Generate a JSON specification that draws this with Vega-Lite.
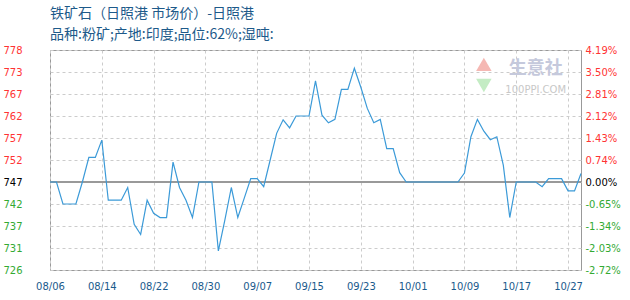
{
  "$schema": "https://vega.github.io/schema/vega-lite/v6.json",
  "width": 531,
  "height": 220,
  "autosize": {"type": "none"},
  "padding": {"left": 50, "top": 50, "right": 49, "bottom": 30},
  "background": "white",
  "config": {
    "view": {"stroke": "#999999", "strokeWidth": 1},
    "font": "DejaVu Sans",
    "axis": {"labelOverlap": false}
  },
  "title": {
    "text": "铁矿石（日照港 市场价）-日照港",
    "subtitle": "品种:粉矿;产地:印度;品位:62%;湿吨:",
    "anchor": "start",
    "frame": "group",
    "font": "Noto Sans CJK SC",
    "subtitleFont": "Noto Sans CJK SC",
    "fontSize": 14,
    "subtitleFontSize": 14,
    "fontWeight": "normal",
    "color": "#1d5a8a",
    "subtitleColor": "#1d5a8a",
    "subtitlePadding": 7,
    "offset": 3
  },
  "data": {
    "values": [
      {"date": "08/06", "price": 746.8}, {"date": "08/07", "price": 746.8}, {"date": "08/08", "price": 741.6},
      {"date": "08/09", "price": 741.6}, {"date": "08/10", "price": 741.6}, {"date": "08/11", "price": 746.8},
      {"date": "08/12", "price": 752.6}, {"date": "08/13", "price": 752.6}, {"date": "08/14", "price": 756.7},
      {"date": "08/15", "price": 742.5}, {"date": "08/16", "price": 742.5}, {"date": "08/17", "price": 742.5},
      {"date": "08/18", "price": 745.5}, {"date": "08/19", "price": 736.8}, {"date": "08/20", "price": 734.4},
      {"date": "08/21", "price": 742.5}, {"date": "08/22", "price": 739.4}, {"date": "08/23", "price": 738.4},
      {"date": "08/24", "price": 738.4}, {"date": "08/25", "price": 751.5}, {"date": "08/26", "price": 745.5},
      {"date": "08/27", "price": 742.5}, {"date": "08/28", "price": 738.4}, {"date": "08/29", "price": 746.8},
      {"date": "08/30", "price": 746.8}, {"date": "08/31", "price": 746.8}, {"date": "09/01", "price": 730.5},
      {"date": "09/02", "price": 737.8}, {"date": "09/03", "price": 745.5}, {"date": "09/04", "price": 738.4},
      {"date": "09/05", "price": 743.0}, {"date": "09/06", "price": 747.6}, {"date": "09/07", "price": 747.6},
      {"date": "09/08", "price": 745.7}, {"date": "09/09", "price": 752.0}, {"date": "09/10", "price": 758.3},
      {"date": "09/11", "price": 761.5}, {"date": "09/12", "price": 759.6}, {"date": "09/13", "price": 762.4},
      {"date": "09/14", "price": 762.4}, {"date": "09/15", "price": 762.4}, {"date": "09/16", "price": 770.7},
      {"date": "09/17", "price": 762.6}, {"date": "09/18", "price": 760.8}, {"date": "09/19", "price": 761.6},
      {"date": "09/20", "price": 768.7}, {"date": "09/21", "price": 768.7}, {"date": "09/22", "price": 773.7},
      {"date": "09/23", "price": 769.2}, {"date": "09/24", "price": 764.2}, {"date": "09/25", "price": 760.8},
      {"date": "09/26", "price": 761.6}, {"date": "09/27", "price": 754.7}, {"date": "09/28", "price": 754.7},
      {"date": "09/29", "price": 749.0}, {"date": "09/30", "price": 746.8}, {"date": "10/01", "price": 746.8},
      {"date": "10/02", "price": 746.8}, {"date": "10/03", "price": 746.8}, {"date": "10/04", "price": 746.8},
      {"date": "10/05", "price": 746.8}, {"date": "10/06", "price": 746.8}, {"date": "10/07", "price": 746.8},
      {"date": "10/08", "price": 746.8}, {"date": "10/09", "price": 748.9}, {"date": "10/10", "price": 757.5},
      {"date": "10/11", "price": 761.6}, {"date": "10/12", "price": 758.8}, {"date": "10/13", "price": 756.8},
      {"date": "10/14", "price": 757.5}, {"date": "10/15", "price": 750.8}, {"date": "10/16", "price": 738.4},
      {"date": "10/17", "price": 746.8}, {"date": "10/18", "price": 746.8}, {"date": "10/19", "price": 746.8},
      {"date": "10/20", "price": 746.8}, {"date": "10/21", "price": 745.7}, {"date": "10/24", "price": 747.6},
      {"date": "10/25", "price": 747.6}, {"date": "10/26", "price": 747.6}, {"date": "10/27", "price": 744.7},
      {"date": "10/28", "price": 744.7}, {"date": "10/29", "price": 748.8}
    ]
  },
  "layer": [
    {
      "mark": {"type": "line", "opacity": 0},
      "encoding": {
        "x": {
          "field": "date", "type": "ordinal",
          "scale": {"type": "point", "padding": 0},
          "axis": {
            "values": ["08/06", "08/14", "08/22", "08/30", "09/07", "09/15", "09/23", "10/01", "10/09", "10/17", "10/27"],
            "labelAngle": 0, "grid": true, "gridDash": [3, 3], "gridColor": "#cccccc", "ticks": false, "domain": false,
            "title": null, "labelColor": "#1a5a8c", "labelFont": "DejaVu Sans", "labelFontSize": 10, "labelPadding": 11, "labelOverlap": false
          }
        },
        "y": {
          "field": "price", "type": "quantitative",
          "scale": {"domain": [726, 778], "nice": false, "zero": false},
          "axis": {
            "orient": "left",
            "values": [726, 731.2, 736.4, 741.6, 746.8, 752, 757.2, 762.4, 767.6, 772.8, 778],
            "labelExpr": "['726','731','737','742','747','752','757','762','767','773','778'][round((datum.value-726)/5.2)]",
            "labelColor": {"condition": [{"test": "datum.value > 747", "value": "#ff3333"}, {"test": "datum.value < 746", "value": "#33aa33"}], "value": "#000000"},
            "grid": true, "gridDash": [3, 3], "gridColor": "#cccccc", "ticks": false, "domain": false, "title": null,
            "labelFont": "DejaVu Sans", "labelFontSize": 10, "labelPadding": 28, "labelOverlap": false
          }
        }
      }
    },
    {
      "layer": [
        {
          "data": {"values": [{"t": "生意社"}]},
          "mark": {"type": "text", "font": "Noto Sans CJK SC", "fontSize": 18, "color": "#c5c9dc", "align": "center", "baseline": "middle", "fontWeight": "bold"},
          "encoding": {
            "x": {"datum": "10/20", "type": "ordinal"},
            "y": {"datum": 773.5, "type": "quantitative", "axis": null},
            "text": {"field": "t"}
          }
        },
        {
          "data": {"values": [{"t": "100PPI.COM"}]},
          "mark": {"type": "text", "font": "DejaVu Sans", "fontSize": 10, "color": "#c8c8c8", "align": "center", "baseline": "middle"},
          "encoding": {
            "x": {"datum": "10/20", "type": "ordinal"},
            "y": {"datum": 768.6, "type": "quantitative", "axis": null},
            "text": {"field": "t"}
          }
        },
        {
          "data": {"values": [{"s": "triangle-up", "c": "#f5b8b3", "v": 774.6}, {"s": "triangle-down", "c": "#c4ecc4", "v": 769.6}]},
          "mark": {"type": "point", "filled": true, "size": 240, "opacity": 1},
          "encoding": {
            "x": {"datum": "10/12", "type": "ordinal"},
            "y": {"field": "v", "type": "quantitative", "axis": null},
            "shape": {"field": "s", "type": "nominal", "scale": null},
            "color": {"field": "c", "type": "nominal", "scale": null}
          }
        },
        {
          "data": {"values": [{}]},
          "mark": {"type": "rule", "color": "#999999", "strokeWidth": 2},
          "encoding": {"y": {"datum": 746.8, "type": "quantitative", "axis": null}}
        },
        {
          "mark": {"type": "line", "color": "#3b9ad8", "strokeWidth": 1.2},
          "encoding": {
            "x": {
              "field": "date", "type": "ordinal",
              "scale": {"type": "point", "padding": 0},
              "axis": {
                "values": ["08/06", "08/14", "08/22", "08/30", "09/07", "09/15", "09/23", "10/01", "10/09", "10/17", "10/27"],
                "labelAngle": 0, "grid": true, "gridDash": [3, 3], "gridColor": "#cccccc", "ticks": false, "domain": false,
                "title": null, "labelColor": "#1a5a8c", "labelFont": "DejaVu Sans", "labelFontSize": 10, "labelPadding": 11, "labelOverlap": false
              }
            },
            "y": {
              "field": "price", "type": "quantitative",
              "scale": {"domain": [726, 778], "nice": false, "zero": false},
              "axis": null
            }
          }
        }
      ]
    },
    {
      "mark": {"type": "line", "opacity": 0},
      "encoding": {
        "x": {
          "field": "date", "type": "ordinal",
          "scale": {"type": "point", "padding": 0},
          "axis": {
            "values": ["08/06", "08/14", "08/22", "08/30", "09/07", "09/15", "09/23", "10/01", "10/09", "10/17", "10/27"],
            "labelAngle": 0, "grid": true, "gridDash": [3, 3], "gridColor": "#cccccc", "ticks": false, "domain": false,
            "title": null, "labelColor": "#1a5a8c", "labelFont": "DejaVu Sans", "labelFontSize": 10, "labelPadding": 11, "labelOverlap": false
          }
        },
        "y": {
          "field": "price", "type": "quantitative",
          "scale": {"domain": [726, 778], "nice": false, "zero": false},
          "axis": {
            "orient": "right",
            "values": [726, 731.2, 736.4, 741.6, 746.8, 752, 757.2, 762.4, 767.6, 772.8, 778],
            "labelExpr": "['-2.72%','-2.03%','-1.34%','-0.65%','0.00%','0.74%','1.43%','2.12%','2.81%','3.50%','4.19%'][round((datum.value-726)/5.2)]",
            "labelColor": {"condition": [{"test": "datum.value > 747", "value": "#ff3333"}, {"test": "datum.value < 746", "value": "#33aa33"}], "value": "#000000"},
            "grid": false, "ticks": false, "domain": false, "title": null,
            "labelFont": "DejaVu Sans", "labelFontSize": 10, "labelPadding": 4, "labelOverlap": false
          }
        }
      }
    }
  ],
  "resolve": {"scale": {"y": "independent"}}
}
